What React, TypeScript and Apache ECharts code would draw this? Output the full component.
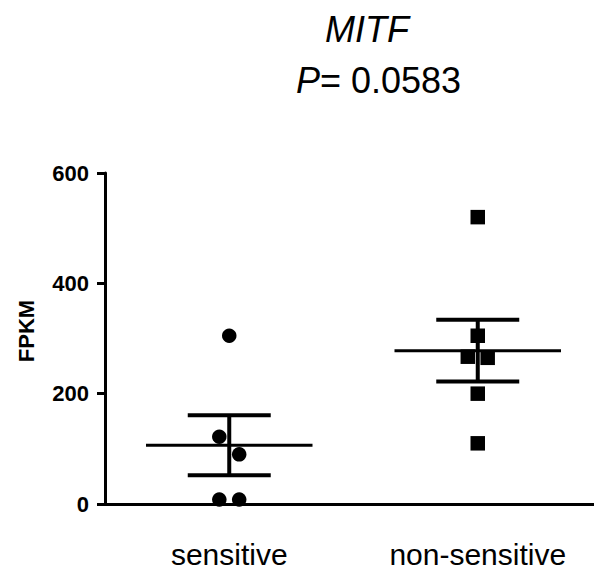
import React, { useEffect, useRef } from "react";
import * as echarts from "echarts";

const categories = ["sensitive", "non-sensitive"];
// [x position (category index + jitter), FPKM]
const sensitiveValues: number[][] = [
  [0, 305],
  [-0.04, 122],
  [0.04, 90],
  [-0.04, 8],
  [0.04, 8],
];
const nonSensitiveValues: number[][] = [
  [1, 520],
  [1, 305],
  [0.96, 267],
  [1.04, 265],
  [1, 200],
  [1, 110],
];
const yTicks = [0, 200, 400, 600];
const titleText = "MITF";
const pValueText = "0.0583";

const FONT = "'Liberation Sans', Arial, Helvetica, sans-serif";

function meanSem(vals: number[][], idx: number): number[] {
  const ys = vals.map((v) => v[1]);
  const n = ys.length;
  const mean = ys.reduce((a, b) => a + b, 0) / n;
  const sd = Math.sqrt(ys.reduce((a, b) => a + (b - mean) * (b - mean), 0) / (n - 1));
  return [idx, mean, sd / Math.sqrt(n)];
}

const summary = [meanSem(sensitiveValues, 0), meanSem(nonSensitiveValues, 1)];

export default function App() {
  const ref = useRef<HTMLDivElement>(null);
  useEffect(() => {
    if (!ref.current) return;
    const chart = echarts.init(ref.current, null, { renderer: "svg" });
    chart.setOption({
      animation: false,
      backgroundColor: "#ffffff",
      grid: { left: 105, right: 0, top: 173, bottom: 69 },
      graphic: [
        {
          type: "text",
          x: 367,
          y: 29.5,
          style: {
            text: titleText,
            font: `italic 36px ${FONT}`,
            fill: "#000",
            align: "center",
            verticalAlign: "middle",
          },
        },
        {
          type: "text",
          x: 378.5,
          y: 80.5,
          style: {
            text: `{i|P}{n|= ${pValueText}}`,
            fill: "#000",
            align: "center",
            verticalAlign: "middle",
            rich: {
              i: { fontStyle: "italic", fontSize: 36, fontFamily: FONT, fill: "#000" },
              n: { fontSize: 36, fontFamily: FONT, fill: "#000" },
            },
          },
        },
      ],
      xAxis: [
        {
          type: "category",
          data: categories,
          boundaryGap: true,
          axisLine: { lineStyle: { color: "#000", width: 3 } },
          axisTick: { alignWithLabel: true, length: 8, lineStyle: { color: "#000", width: 2 } },
          axisLabel: { color: "#000", fontSize: 30, fontFamily: FONT, margin: 35 },
          splitLine: { show: false },
        },
        { type: "value", min: -0.5, max: 1.5, show: false },
      ],
      yAxis: {
        type: "value",
        min: yTicks[0],
        max: yTicks[yTicks.length - 1],
        interval: 200,
        name: "FPKM",
        nameLocation: "middle",
        nameGap: 68,
        nameTextStyle: { color: "#000", fontSize: 22, fontWeight: "bold", fontFamily: FONT, padding: [0, 0, 0, 15] },
        axisLine: { show: true, onZero: false, lineStyle: { color: "#000", width: 3 } },
        axisTick: { show: true, length: 8, lineStyle: { color: "#000", width: 3 } },
        axisLabel: { color: "#000", fontSize: 22, fontWeight: "bold", fontFamily: FONT, margin: 16 },
        splitLine: { show: false },
      },
      series: [
        {
          type: "custom",
          xAxisIndex: 1,
          data: summary,
          z: 3,
          renderItem: (params: any, api: any) => {
            const x = api.value(0);
            const m = api.value(1);
            const s = api.value(2);
            const c = api.coord([x, m]);
            const up = api.coord([x, m + s]);
            const lo = api.coord([x, m - s]);
            const unit = api.size([1, 0])[0];
            const half = unit * 0.335;
            const cap = unit * 0.167;
            const st = { stroke: "#000", lineWidth: 3 };
            const st4 = { stroke: "#000", lineWidth: 4 };
            return {
              type: "group",
              children: [
                { type: "line", shape: { x1: c[0] - half, y1: c[1], x2: c[0] + half, y2: c[1] }, style: st },
                { type: "line", shape: { x1: up[0], y1: up[1], x2: lo[0], y2: lo[1] }, style: st4 },
                { type: "line", shape: { x1: up[0] - cap, y1: up[1], x2: up[0] + cap, y2: up[1] }, style: st4 },
                { type: "line", shape: { x1: lo[0] - cap, y1: lo[1], x2: lo[0] + cap, y2: lo[1] }, style: st4 },
              ],
            };
          },
        },
        {
          type: "scatter",
          xAxisIndex: 1,
          data: sensitiveValues,
          symbol: "circle",
          symbolSize: 14.5,
          itemStyle: { color: "#000", opacity: 1 },
          z: 4,
        },
        {
          type: "scatter",
          xAxisIndex: 1,
          data: nonSensitiveValues,
          symbol: "rect",
          symbolSize: 14.5,
          itemStyle: { color: "#000", opacity: 1 },
          z: 4,
        },
      ],
    });
    return () => chart.dispose();
  }, []);
  return <div ref={ref} style={{ width: 602, height: 573, margin: -8 }} />;
}
